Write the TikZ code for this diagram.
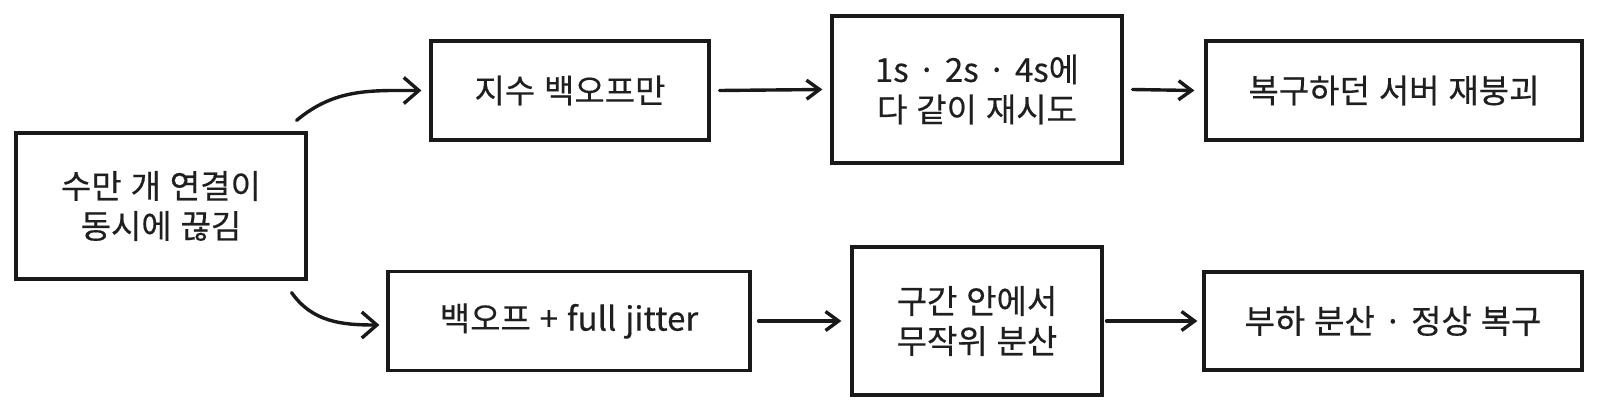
\documentclass[tikz,border=0pt]{standalone}
\usepackage{fontspec}
\setmainfont{Noto Sans CJK KR}[WordSpace=1.2,FakeBold=0.4]
\usetikzlibrary{arrows.meta}
\begin{document}
\begin{tikzpicture}[x=1pt,y=-1pt,
  box/.style={draw=black!90, line width=3.2pt, rectangle, inner sep=0pt, align=center,
    font=\fontsize{33}{40}\selectfont, text=black!88},
  arr/.style={draw=black!90, line width=3.4pt, line cap=round,
    -{Straight Barb[length=13pt,width=19pt,line width=3.4pt]}},
  bigarr/.style={draw=black!90, line width=3.4pt, line cap=round,
    -{Straight Barb[length=15pt,width=26pt,line width=3.4pt]}}]
\useasboundingbox (0,0) rectangle (1600,412);
\node[box, minimum width=290pt, minimum height=146pt] (src) at (161,206) {수만 개 연결이\\동시에 끊김};
\node[box, minimum width=278pt, minimum height=99pt] (a) at (570,90.5) {지수 백오프만};
\node[box, minimum width=290pt, minimum height=147pt] (b) at (977,89.5) {1s · 2s · 4s에\\다 같이 재시도};
\node[box, minimum width=376pt, minimum height=99pt] (c) at (1394,90.5) {복구하던 서버 재붕괴};
\node[box, minimum width=362pt, minimum height=99pt] (d) at (569,321) {백오프 + full jitter};
\node[box, minimum width=250pt, minimum height=148pt] (e) at (977,321) {구간 안에서\\무작위 분산};
\node[box, minimum width=378pt, minimum height=98pt] (f) at (1393,321) {부하 분산 · 정상 복구};
\draw[bigarr] ([xshift=-11pt,yshift=11pt]src.north east) to[out=40,in=180] ([xshift=-8pt]a.west);
\draw[bigarr] ([xshift=-16pt,yshift=-12pt]src.south east) to[out=-55,in=180] ([xshift=-7pt,yshift=-4pt]d.west);
\draw[arr] ([xshift=9pt]a.east) -- ([xshift=-8pt]b.west);
\draw[arr] ([xshift=9pt]b.east) -- ([xshift=-10pt]c.west);
\draw[arr] ([xshift=7pt]d.east) -- ([xshift=-9pt]e.west);
\draw[arr] ([xshift=3pt]e.east) -- ([xshift=-5pt]f.west);
\end{tikzpicture}
\end{document}
